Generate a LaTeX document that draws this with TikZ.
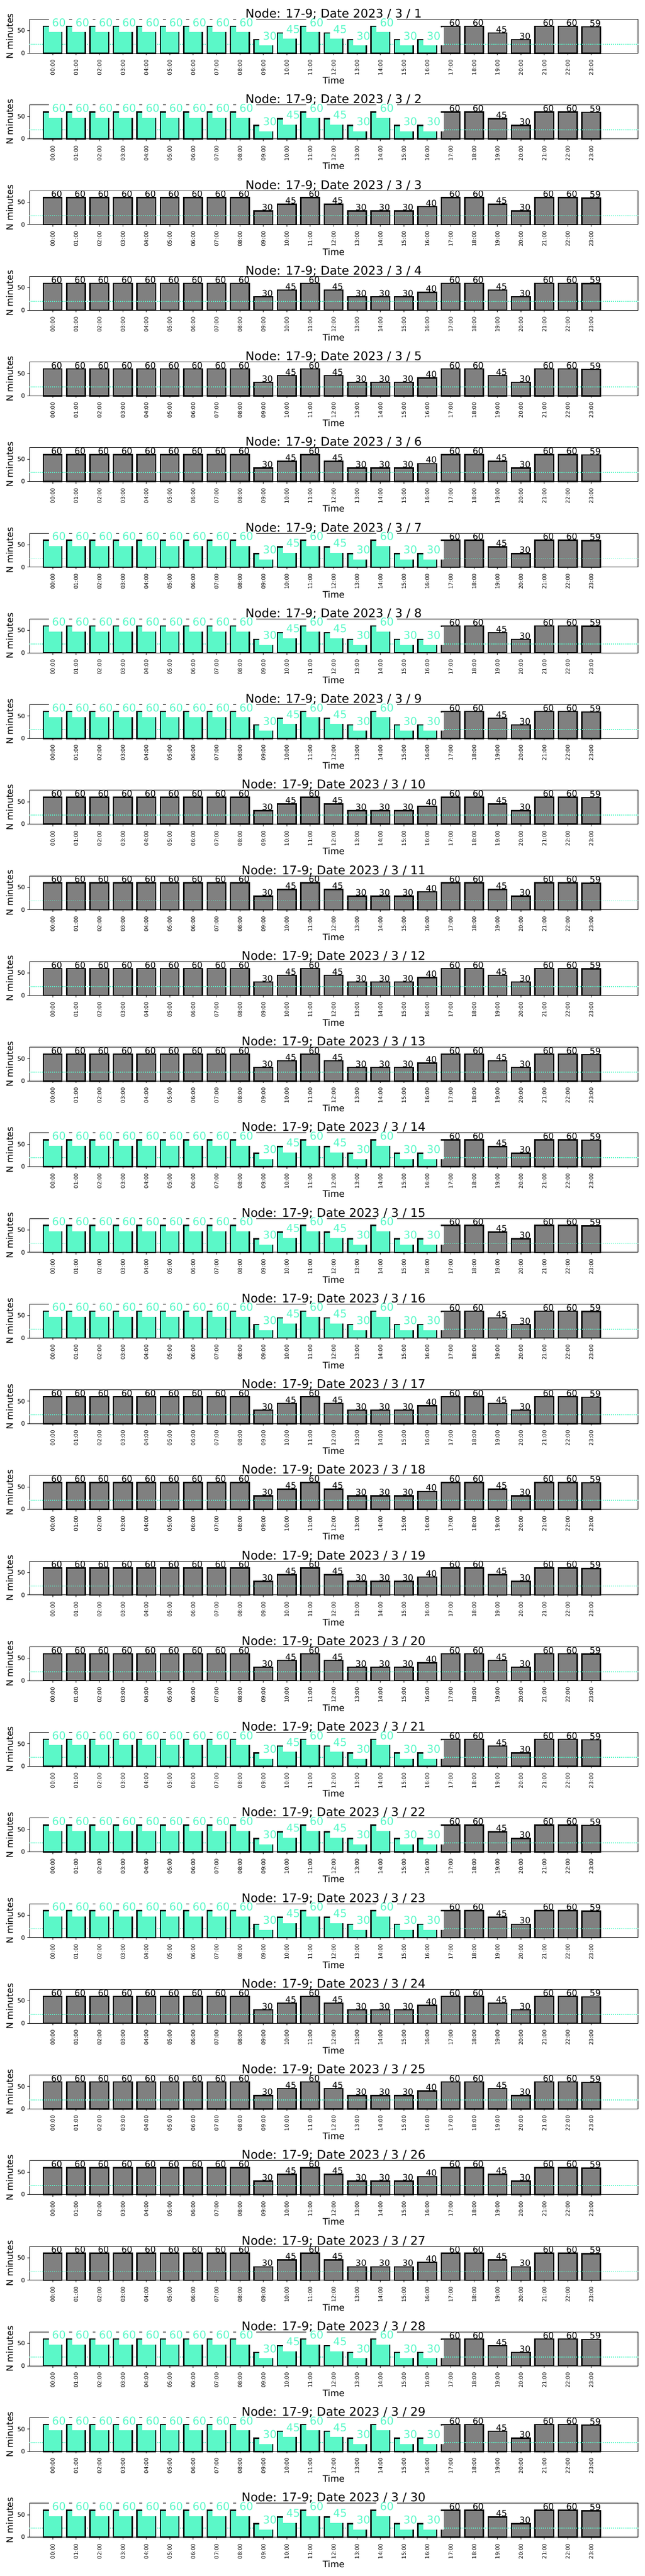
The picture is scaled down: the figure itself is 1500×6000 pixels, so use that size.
\documentclass[tikz,border=0pt]{standalone}
\usepackage{fontspec}
\setmainfont{DejaVu Sans}
\usepackage{xcolor}
\definecolor{Aqua}{RGB}{91,248,200}
\definecolor{BarGrey}{RGB}{128,128,128}
\tikzset{
	barbox/.style={fill=BarGrey, draw=black, line width=1.5pt},
	greenbar/.style={fill=Aqua, draw=black, line width=1.5pt},
	axframe/.style={draw=black, line width=0.55pt},
	tickline/.style={line width=0.55pt},
	dotline/.style={draw=Aqua, line width=1pt, dash pattern=on 1pt off 1.4pt},
	barlabel/.style={anchor=base, inner sep=0pt, font=\fontsize{10}{12}\selectfont},
	greenlabel/.style={anchor=base, inner sep=0pt, text=Aqua, font=\fontsize{12.5}{15}\selectfont},
	plottitle/.style={anchor=base, inner sep=0pt, font=\fontsize{13.9}{16}\selectfont},
	axlabel/.style={inner sep=0pt, font=\fontsize{10.4}{12}\selectfont},
	xticklab/.style={rotate=90, anchor=east, inner sep=0pt, font=\fontsize{6.25}{7}\selectfont},
	yticklab/.style={anchor=east, inner sep=0pt, font=\fontsize{6.94}{8}\selectfont}
}

\begin{document}
\begin{tikzpicture}[x=0.5pt, y=-0.5pt]
	\useasboundingbox (0,0) rectangle (1500,6000);
	\foreach \dd in {1,...,30} {
		\pgfmathsetmacro{\ytop}{45+(\dd-1)*199.5}
		\pgfmathsetmacro{\ybot}{\ytop+79}
		\pgfmathtruncatemacro{\isg}{mod(\dd,7)<3 ? 1 : 0}
		\ifnum\isg=1
			\def\vals{60,60,60,60,60,60,60,60,60,30,45,60,45,30,60,30,30,60,60,45,30,60,60,59}
			\def\ng{16}
		\else
			\def\vals{60,60,60,60,60,60,60,60,60,30,45,60,45,30,30,30,40,60,60,45,30,60,60,59}
			\def\ng{-1}
		\fi
		% grey bars
		\foreach \val [count=\i from 0] in \vals {
			\pgfmathsetmacro{\cx}{122.4+54.5*\i}
			\pgfmathsetmacro{\yt}{\ybot-1.045*\val}
			\ifnum\i>\ng
				\draw[barbox] (\cx-21.75,\ybot) rectangle (\cx+21.75,\yt);
			\fi
			\draw[tickline] (\cx,\ybot) -- (\cx,\ybot+4.9);
			\node[xticklab] (xt\dd-\i) at (\cx,\ybot+15) {\ifnum\i<10 0\fi\i:00};
		}
		\draw[axframe] (68.4,\ytop) rectangle (1484.7,\ybot);
		\draw[tickline] (68.4,\ybot) -- (63.5,\ybot);
		\draw[tickline] (68.4,\ybot-52.25) -- (63.5,\ybot-52.25);
		\node[yticklab] (y0\dd) at (58.6,\ybot) {0};
		\node[yticklab] (y50\dd) at (58.6,\ybot-52.25) {50};
		\draw[dotline] (68.4,\ybot-20.9) -- (1484.7,\ybot-20.9);
		% highlighted hours
		\ifnum\isg=1
			\foreach \val [count=\i from 0] in \vals {
				\ifnum\i<17
					\pgfmathsetmacro{\cx}{122.4+54.5*\i}
					\pgfmathsetmacro{\yt}{\ybot-1.045*\val}
					\draw[greenbar] (\cx-21.75,\ybot) rectangle (\cx+21.75,\yt);
					\fill[white] (\cx-9,\yt-29.3) rectangle (\cx+38.5,\yt+13.5);
					\node[greenlabel] (glab\dd-\i) at (\cx+15,\yt) {\val};
				\fi
			}
		\fi
		\foreach \val [count=\i from 0] in \vals {
			\pgfmathsetmacro{\cx}{122.4+54.5*\i}
			\pgfmathsetmacro{\yt}{\ybot-1.045*\val}
			\ifnum\i>\ng
				\node[barlabel] (lab\dd-\i) at (\cx+9.5,\yt-1) {\val};
			\fi
		}
		\node[plottitle] (title\dd) at (776.5,\ytop-3.5) {Node: 17-9; Date 2023 / 3 / \dd};
		\node[axlabel, rotate=90] (ylab\dd) at (23,\ytop+39.5) {N minutes};
		\node[axlabel, anchor=base] (time\dd) at (776.5,\ybot+71) {Time};
	}
\end{tikzpicture}
\end{document}
